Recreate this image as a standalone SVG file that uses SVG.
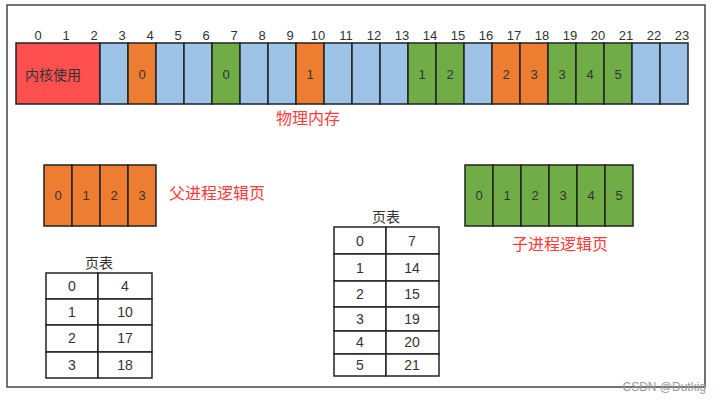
<svg xmlns="http://www.w3.org/2000/svg" width="720" height="401" viewBox="0 0 720 401">
<style>
text{font-family:"Liberation Sans","Noto Sans CJK SC",sans-serif;fill:#333;text-anchor:middle}
.n{font-size:13px}
.lbl{font-size:16px;fill:#FF3B3B;text-anchor:start}
.c{stroke:#222;stroke-width:1.5}
.r{fill:#FF5050}.b{fill:#9DC3E6}.o{fill:#ED7D31}.g{fill:#70AD47}.w{fill:#fff}
.idx{font-size:13px;fill:#444}
</style>
<rect x="0" y="0" width="720" height="401" fill="#fff"/>
<rect x="7" y="5" width="698" height="382" fill="none" stroke="#444" stroke-width="1.5"/>
<g id="indices" class="idx">
<text x="38" y="40">0</text><text x="66" y="40">1</text><text x="94" y="40">2</text><text x="122" y="40">3</text><text x="150" y="40">4</text><text x="178" y="40">5</text><text x="206" y="40">6</text><text x="234" y="40">7</text><text x="262" y="40">8</text><text x="290" y="40">9</text><text x="318" y="40">10</text><text x="346" y="40">11</text><text x="374" y="40">12</text><text x="402" y="40">13</text><text x="430" y="40">14</text><text x="458" y="40">15</text><text x="486" y="40">16</text><text x="514" y="40">17</text><text x="542" y="40">18</text><text x="570" y="40">19</text><text x="598" y="40">20</text><text x="626" y="40">21</text><text x="654" y="40">22</text><text x="682" y="40">23</text>
</g>
<g id="physical-memory" class="c">
<rect class="r" x="16" y="43" width="84" height="61"/>
<rect class="b" x="100" y="43" width="28" height="61"/>
<rect class="o" x="128" y="43" width="28" height="61"/>
<rect class="b" x="156" y="43" width="28" height="61"/>
<rect class="b" x="184" y="43" width="28" height="61"/>
<rect class="g" x="212" y="43" width="28" height="61"/>
<rect class="b" x="240" y="43" width="28" height="61"/>
<rect class="b" x="268" y="43" width="28" height="61"/>
<rect class="o" x="296" y="43" width="28" height="61"/>
<rect class="b" x="324" y="43" width="28" height="61"/>
<rect class="b" x="352" y="43" width="28" height="61"/>
<rect class="b" x="380" y="43" width="28" height="61"/>
<rect class="g" x="408" y="43" width="28" height="61"/>
<rect class="g" x="436" y="43" width="28" height="61"/>
<rect class="b" x="464" y="43" width="28" height="61"/>
<rect class="o" x="492" y="43" width="28" height="61"/>
<rect class="o" x="520" y="43" width="28" height="61"/>
<rect class="g" x="548" y="43" width="28" height="61"/>
<rect class="g" x="576" y="43" width="28" height="61"/>
<rect class="g" x="604" y="43" width="28" height="61"/>
<rect class="b" x="632" y="43" width="28" height="61"/>
<rect class="b" x="660" y="43" width="28" height="61"/>
</g>
<g id="physical-labels" class="n">
<text x="53" y="80" style="font-size:14px">内核使用</text>
<text x="142" y="79">0</text><text x="226" y="79">0</text><text x="310" y="79">1</text>
<text x="422" y="79">1</text><text x="450" y="79">2</text><text x="506" y="79">2</text><text x="534" y="79">3</text><text x="562" y="79">3</text><text x="590" y="79">4</text><text x="618" y="79">5</text>
<text class="lbl" x="276" y="124">物理内存</text>
</g>
<g id="parent-pages">
<g class="c"><rect class="o" x="44" y="165" width="28" height="61"/><rect class="o" x="72" y="165" width="28" height="61"/><rect class="o" x="100" y="165" width="28" height="61"/><rect class="o" x="128" y="165" width="28" height="61"/></g>
<g class="n"><text x="58" y="200">0</text><text x="86" y="200">1</text><text x="114" y="200">2</text><text x="142" y="200">3</text></g>
<text class="lbl" x="169" y="199">父进程逻辑页</text>
</g>
<g id="child-pages">
<g class="c"><rect class="g" x="465" y="165" width="28" height="61"/><rect class="g" x="493" y="165" width="28" height="61"/><rect class="g" x="521" y="165" width="28" height="61"/><rect class="g" x="549" y="165" width="28" height="61"/><rect class="g" x="577" y="165" width="28" height="61"/><rect class="g" x="605" y="165" width="28" height="61"/></g>
<g class="n"><text x="479" y="200">0</text><text x="507" y="200">1</text><text x="535" y="200">2</text><text x="563" y="200">3</text><text x="591" y="200">4</text><text x="619" y="200">5</text></g>
<text class="lbl" x="512" y="250">子进程逻辑页</text>
</g>
<g id="parent-table">
<g class="c" fill="#fff"><rect x="46" y="273" width="52" height="26"/><rect x="98" y="273" width="54" height="26"/><rect x="46" y="299" width="52" height="26"/><rect x="98" y="299" width="54" height="26"/><rect x="46" y="325" width="52" height="27"/><rect x="98" y="325" width="54" height="27"/><rect x="46" y="352" width="52" height="26"/><rect x="98" y="352" width="54" height="26"/></g>
<g class="n" style="font-size:14px"><text x="99" y="268">页表</text>
<text x="72" y="291">0</text><text x="125" y="291">4</text><text x="72" y="317">1</text><text x="125" y="317">10</text><text x="72" y="343">2</text><text x="125" y="343">17</text><text x="72" y="370">3</text><text x="125" y="370">18</text></g>
</g>
<g id="child-table">
<g class="c" fill="#fff"><rect x="334" y="227" width="52" height="27"/><rect x="386" y="227" width="53" height="27"/><rect x="334" y="254" width="52" height="27"/><rect x="386" y="254" width="53" height="27"/><rect x="334" y="281" width="52" height="26"/><rect x="386" y="281" width="53" height="26"/><rect x="334" y="307" width="52" height="24"/><rect x="386" y="307" width="53" height="24"/><rect x="334" y="331" width="52" height="23"/><rect x="386" y="331" width="53" height="23"/><rect x="334" y="354" width="52" height="22"/><rect x="386" y="354" width="53" height="22"/></g>
<g class="n" style="font-size:14px"><text x="386" y="222">页表</text>
<text x="360" y="246">0</text><text x="412" y="246">7</text><text x="360" y="273">1</text><text x="412" y="273">14</text><text x="360" y="299">2</text><text x="412" y="299">15</text><text x="360" y="324">3</text><text x="412" y="324">19</text><text x="360" y="347">4</text><text x="412" y="347">20</text><text x="360" y="370">5</text><text x="412" y="370">21</text></g>
</g>
<text x="706" y="391" style="font-size:12px;fill:#999;text-anchor:end">CSDN @Dutkig</text>
</svg>
